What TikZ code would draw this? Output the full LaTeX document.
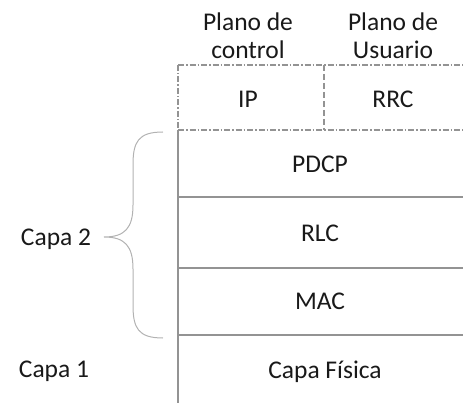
\documentclass[tikz,border=0pt]{standalone}
\usepackage{fontspec}
\setmainfont{Carlito}
\begin{document}
\begin{tikzpicture}[x=1pt,y=-1pt,
  rule/.style={draw=gray!85, line width=1.2pt},
  dashrule/.style={draw=gray!85, line width=1.2pt, dash pattern=on 6pt off 2pt on 1.5pt off 2pt},
  lbl/.style={font=\fontsize{25.5}{28}\selectfont, text=black!90, align=center, inner sep=0pt}]
\useasboundingbox (0,0) rectangle (463,403);
% plane frame
\coordinate (tl) at (178,65);
\coordinate (tr) at (463,65);
\coordinate (ml) at (178,130);
\coordinate (mr) at (463,130);
\coordinate (bl) at (178,403);
\coordinate (dt) at (324,65);
\coordinate (db) at (324,130);
\draw[dashrule] (tl) -- (tr);
\draw[dashrule] (tl) -- (ml);
\draw[dashrule] (ml) -- (mr);
\draw[draw=gray!85, line width=1.2pt, dash pattern=on 6pt off 3pt] (dt) -- (db);
\draw[rule] (ml) -- (bl);
\draw[rule] (178,197) -- (463,197);
\draw[rule] (178,268) -- (463,268);
\draw[rule] (178,335) -- (463,335);
% brace
\draw[draw=gray!60, line width=1pt]
  (163,132) .. controls (138,132) and (133,142) .. (133,165)
  -- (133,205) .. controls (133,228) and (125,237) .. (104,237)
  .. controls (125,237) and (133,246) .. (133,269)
  -- (133,305) .. controls (133,328) and (138,338) .. (163,338);
% labels
\node[lbl] (pc) at (248,36) {Plano de\\control};
\node[lbl] (pu) at (393,36) {Plano de\\Usuario};
\node[lbl] (ip) at (248,99) {IP};
\node[lbl] (rrc) at (393,99) {RRC};
\node[lbl] (pdcp) at (320,164) {PDCP};
\node[lbl] (rlc) at (320,233) {RLC};
\node[lbl] (mac) at (320,301) {MAC};
\node[lbl] (phy) at (325,372) {Capa Física};
\node[lbl] (c2) at (56,239) {Capa 2};
\node[lbl] (c1) at (54,371) {Capa 1};
\end{tikzpicture}
\end{document}
